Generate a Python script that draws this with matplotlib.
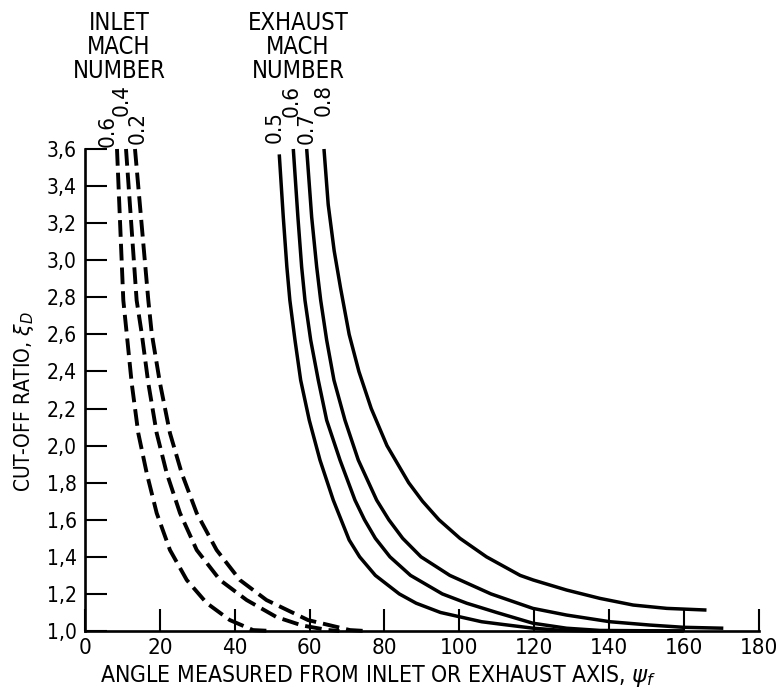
import matplotlib
matplotlib.use("Agg")
import matplotlib.pyplot as plt
from matplotlib import font_manager
from matplotlib.font_manager import FontProperties

# ---------------- data ----------------
inlet_mach = ["0.6", "0.4", "0.2"]
inlet_06_x = [8.55, 10.24, 11.14, 12.48, 14.24, 16.49, 19.16, 22.7, 27.2, 32.5, 38.7, 44.9, 50.0]
inlet_06_y = [3.60, 2.784, 2.606, 2.337, 2.067, 1.852, 1.636, 1.437, 1.275, 1.151, 1.059, 1.005, 1.0]
inlet_04_x = [10.96, 13.8, 15.15, 16.92, 19.16, 21.83, 25.39, 29.85, 36.08, 43.2, 51.2, 58.0, 65.0, 68.0]
inlet_04_y = [3.60, 2.784, 2.606, 2.337, 2.067, 1.852, 1.636, 1.437, 1.275, 1.167, 1.075, 1.03, 1.005, 1.0]
inlet_02_x = [13.36, 16.92, 17.83, 20.04, 22.71, 25.84, 29.85, 35.17, 41.4, 48.5, 59.6, 70.8, 75.0]
inlet_02_y = [3.60, 2.784, 2.606, 2.337, 2.067, 1.852, 1.636, 1.437, 1.275, 1.167, 1.059, 1.005, 1.0]

exhaust_mach = ["0.5", "0.6", "0.7", "0.8"]
exh_05_x = [51.92, 52.99, 53.95, 54.75, 56.12, 57.64, 59.94, 62.80, 66.35, 70.6, 73.4, 77.6, 84.0, 88.5, 95.0, 106.0, 111.8, 119.8, 127.0, 135.0, 160.0]
exh_05_y = [3.571, 3.233, 2.964, 2.784, 2.569, 2.353, 2.137, 1.922, 1.706, 1.491, 1.40, 1.30, 1.20, 1.15, 1.10, 1.05, 1.035, 1.015, 1.004, 1.0, 1.0]
exh_06_x = [55.67, 56.9, 57.9, 58.79, 60.32, 62.35, 64.59, 68.15, 72.15, 74.7, 77.6, 81.5, 87.0, 95.5, 102.0, 110.0, 119.7, 128.7, 137.6, 160.0]
exh_06_y = [3.60, 3.233, 2.964, 2.784, 2.569, 2.353, 2.137, 1.922, 1.706, 1.60, 1.50, 1.40, 1.30, 1.20, 1.15, 1.10, 1.042, 1.015, 1.003, 1.0]
exh_07_x = [59.25, 60.58, 61.92, 62.99, 64.59, 66.54, 69.48, 73.04, 77.95, 81.2, 84.9, 89.8, 97.5, 108.5, 119.7, 128.7, 140.3, 151.0, 159.9, 170.6]
exh_07_y = [3.60, 3.233, 2.964, 2.784, 2.569, 2.353, 2.137, 1.922, 1.706, 1.60, 1.50, 1.40, 1.30, 1.20, 1.122, 1.086, 1.05, 1.032, 1.02, 1.015]
exh_08_x = [63.87, 65.0, 66.6, 68.3, 70.6, 73.2, 76.5, 80.7, 86.5, 90.2, 94.6, 100.2, 107.3, 116.3, 119.8, 128.7, 137.6, 146.5, 155.5, 166.1]
exh_08_y = [3.60, 3.30, 3.05, 2.85, 2.60, 2.40, 2.20, 2.00, 1.80, 1.70, 1.60, 1.50, 1.40, 1.30, 1.275, 1.221, 1.176, 1.14, 1.122, 1.113]

x_ticks = [0, 20, 40, 60, 80, 100, 120, 140, 160, 180]
y_ticks = [1.0, 1.2, 1.4, 1.6, 1.8, 2.0, 2.2, 2.4, 2.6, 2.8, 3.0, 3.2, 3.4, 3.6]
y_tick_labels = ["1,0", "1,2", "1,4", "1,6", "1,8", "2,0", "2,2", "2,4", "2,6", "2,8", "3,0", "3,2", "3,4", "3,6"]

# ---------------- fonts: prefer a condensed face ----------------
cands = []
for f in font_manager.fontManager.ttflist:
    nm = f.name
    st = str(f.stretch).lower()
    fn = f.fname.lower()
    cond = ("condensed" in st) or ("narrow" in nm.lower()) or ("condensed" in nm.lower()) \
        or ("condensed" in fn) or ("narrow" in fn)
    if cond and "oblique" not in fn and "italic" not in fn:
        score = 0
        if "bold" in fn:
            score += 1
        if "dejavu" in fn:
            score -= 2
        if "liberation" in fn:
            score -= 3
        cands.append((score, f.fname))
cands.sort()
if cands:
    fp_file = cands[0][1]
    scale = 1.0
else:
    fp_file = None
    scale = 0.78

def FP(size):
    if fp_file:
        return FontProperties(fname=fp_file, size=size * scale)
    return FontProperties(family="DejaVu Sans", size=size * scale)

plt.rcParams["font.family"] = ["DejaVu Sans"]
plt.rcParams["mathtext.fontset"] = "dejavusans"

W, H = 777, 692
fig = plt.figure(figsize=(W / 100, H / 100), dpi=100)
ax = fig.add_axes([85 / W, 1 - 631 / H, 673.5 / W, 482 / H])

def fx(px):
    return px / W

def fy(py):
    return 1 - py / H

dash_kw = dict(color="black", lw=2.8, dashes=(4.3, 1.8), solid_capstyle="butt", clip_on=False)
for xs, ys in [(inlet_06_x, inlet_06_y), (inlet_04_x, inlet_04_y), (inlet_02_x, inlet_02_y)]:
    ax.plot(xs, ys, **dash_kw)

solid_kw = dict(color="black", lw=2.5, solid_capstyle="butt", solid_joinstyle="round", clip_on=False)
for xs, ys in [(exh_05_x, exh_05_y), (exh_06_x, exh_06_y), (exh_07_x, exh_07_y), (exh_08_x, exh_08_y)]:
    ax.plot(xs, ys, **solid_kw)

ax.set_xlim(0, 180)
ax.set_ylim(1.0, 3.6)
ax.spines["top"].set_visible(False)
ax.spines["right"].set_visible(False)
for s in ("left", "bottom"):
    ax.spines[s].set_linewidth(1.9)

ax.set_xticks(x_ticks)
ax.set_xticklabels([str(t) for t in x_ticks], fontproperties=FP(16))
ax.set_yticks(y_ticks)
ax.set_yticklabels(y_tick_labels, fontproperties=FP(15))
ax.tick_params(axis="both", direction="in", length=16, width=1.5, color="black")
ax.tick_params(axis="y", pad=6)
ax.tick_params(axis="x", pad=5)

# axis labels
fig.text(fx(378), fy(676), r"ANGLE MEASURED FROM INLET OR EXHAUST AXIS, $\psi_f$",
         ha="center", va="center", fontproperties=FP(16.5))
fig.text(fx(24), fy(402), r"CUT-OFF RATIO, $\xi_D$", rotation=90,
         ha="center", va="center", fontproperties=FP(15))

# headers
fig.text(fx(119), fy(47), "INLET\nMACH\nNUMBER", ha="center", va="center",
         fontproperties=FP(17), linespacing=1.0)
fig.text(fx(298), fy(47), "EXHAUST\nMACH\nNUMBER", ha="center", va="center",
         fontproperties=FP(17), linespacing=1.0)

# curve labels
inlet_label_pos = [(108, 131), (122, 100), (138, 128)]
for lab, (px, py) in zip(inlet_mach, inlet_label_pos):
    fig.text(fx(px), fy(py), lab, rotation=90, ha="center", va="center", fontproperties=FP(16))
exh_label_pos = [(275, 127), (292, 101), (307, 128), (324, 100)]
for lab, (px, py) in zip(exhaust_mach, exh_label_pos):
    fig.text(fx(px), fy(py), lab, rotation=90, ha="center", va="center", fontproperties=FP(16))

fig.savefig("out.png", dpi=100)
